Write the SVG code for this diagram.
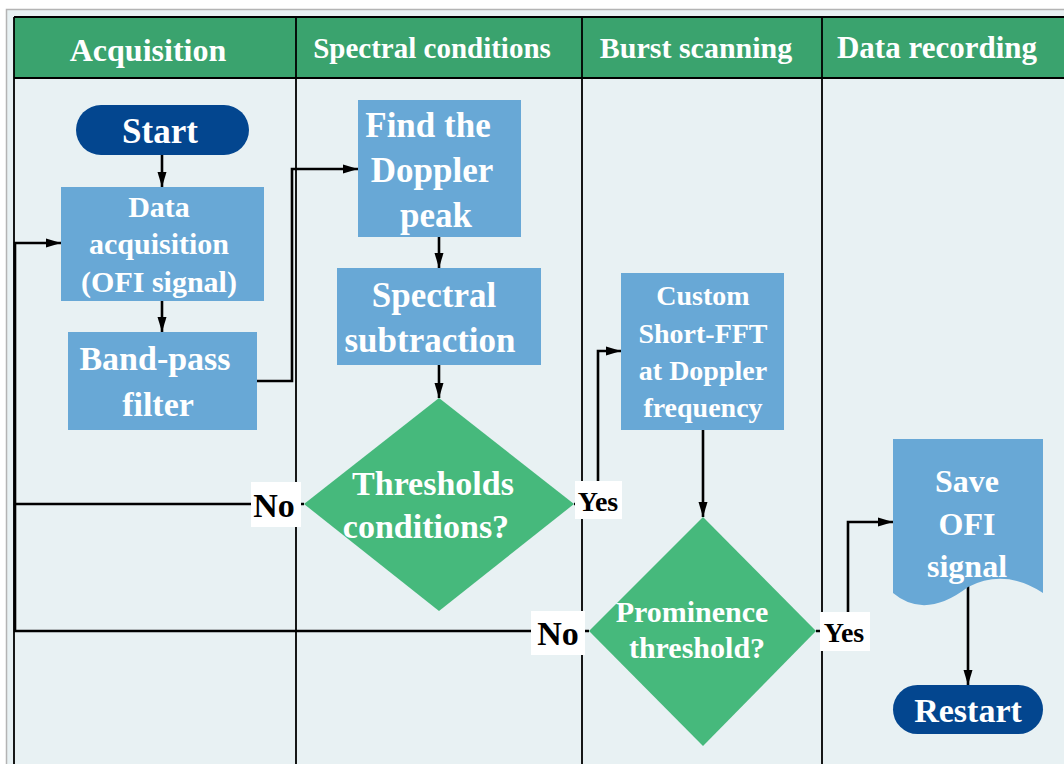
<svg xmlns="http://www.w3.org/2000/svg" width="1064" height="764" viewBox="0 0 1064 764">
<defs>
<marker id="arr" markerUnits="userSpaceOnUse" markerWidth="16" markerHeight="10" refX="15" refY="5" orient="auto">
<path d="M0,0.5 L15,5 L0,9.5 z" fill="#000"/>
</marker>
<style>
text{font-family:"Liberation Serif","Times New Roman",serif;font-weight:bold;text-anchor:middle}
.hd{fill:#fff}
.w{fill:#fff}
.b{fill:#000}
.box{fill:#68a8d6}
.dia{fill:#46b97c}
.term{fill:#03468f}
.lbl{fill:#fff}
.grid{stroke:#000;stroke-width:1.8;fill:none}
.con{stroke:#000;stroke-width:2.6;fill:none}
</style>
</defs>
<rect x="0" y="0" width="1064" height="764" fill="#fff"/>
<rect x="6.5" y="9.5" width="1062" height="760" fill="#e8f1f3" stroke="#b4b4b4" stroke-width="1.5"/>
<g id="lanes">
<rect x="14" y="17" width="1055" height="61" fill="#3aa36e"/>
<path class="grid" d="M14,17 H1064 M14,78 H1064 M14,17 V764 M296,17 V764 M582,17 V764 M822,17 V764"/>
<text class="hd" x="148" y="61" font-size="32">Acquisition</text>
<text class="hd" x="432" y="58" font-size="29">Spectral conditions</text>
<text class="hd" x="696" y="58" font-size="30">Burst scanning</text>
<text class="hd" x="937" y="58" font-size="31">Data recording</text>
</g>
<g id="connectors">
<path class="con" d="M162,155 V187" marker-end="url(#arr)"/>
<path class="con" d="M162,301 V332" marker-end="url(#arr)"/>
<path class="con" d="M257,381 H292 V169 H358" marker-end="url(#arr)"/>
<path class="con" d="M439,237 V268" marker-end="url(#arr)"/>
<path class="con" d="M439,365 V398" marker-end="url(#arr)"/>
<path class="con" d="M304,504 H15 V243 H61" marker-end="url(#arr)"/>
<path class="con" d="M589,631 H15 V504"/>
<path class="con" d="M574,504 H598 V351 H621" marker-end="url(#arr)"/>
<path class="con" d="M703,430 V517" marker-end="url(#arr)"/>
<path class="con" d="M816,631 H848 V522 H893" marker-end="url(#arr)"/>
<path class="con" d="M968,586 V685" marker-end="url(#arr)"/>
<g id="label-no1"><rect class="lbl" x="251" y="482" width="50" height="45"/><text class="b" x="274" y="517" font-size="34">No</text></g>
<g id="label-yes1"><rect class="lbl" x="575" y="481" width="47" height="38"/><text class="b" x="598" y="511" font-size="28">Yes</text></g>
<g id="label-no2"><rect class="lbl" x="531" y="611" width="54" height="44"/><text class="b" x="558" y="645" font-size="34">No</text></g>
<g id="label-yes2"><rect class="lbl" x="820" y="612" width="50" height="39"/><text class="b" x="844" y="642" font-size="28">Yes</text></g>
</g>
<g id="start">
<rect class="term" x="76" y="105" width="173" height="50" rx="25"/>
<text class="w" x="160" y="143" font-size="35">Start</text>
</g>
<g id="data-acquisition">
<rect class="box" x="61" y="187" width="203" height="114"/>
<text class="w" x="159" y="217" font-size="30">Data</text>
<text class="w" x="159" y="254" font-size="30">acquisition</text>
<text class="w" x="159" y="292" font-size="30">(OFI signal)</text>
</g>
<g id="band-pass">
<rect class="box" x="68" y="332" width="189" height="98"/>
<text class="w" x="155" y="370" font-size="34">Band-pass</text>
<text class="w" x="158" y="416" font-size="34">filter</text>
</g>
<g id="find-doppler">
<rect class="box" x="358" y="100" width="163" height="137"/>
<text class="w" x="428" y="137" font-size="35">Find the</text>
<text class="w" x="432" y="182" font-size="35">Doppler</text>
<text class="w" x="436" y="227" font-size="35">peak</text>
</g>
<g id="spectral-subtraction">
<rect class="box" x="337" y="268" width="204" height="97"/>
<text class="w" x="434" y="307" font-size="35">Spectral</text>
<text class="w" x="430" y="352" font-size="35">subtraction</text>
</g>
<g id="thresholds">
<polygon class="dia" points="439,398 574,504 439,611 304,504"/>
<text class="w" x="433" y="495" font-size="34">Thresholds</text>
<text class="w" x="426" y="538" font-size="34">conditions?</text>
</g>
<g id="custom-fft">
<rect class="box" x="621" y="273" width="163" height="157"/>
<text class="w" x="703" y="305" font-size="28">Custom</text>
<text class="w" x="703" y="343" font-size="28">Short-FFT</text>
<text class="w" x="703" y="380" font-size="28">at Doppler</text>
<text class="w" x="703" y="417" font-size="28">frequency</text>
</g>
<g id="prominence">
<polygon class="dia" points="703,517 816,631 703,746 589,631"/>
<text class="w" x="692" y="622" font-size="30">Prominence</text>
<text class="w" x="697" y="658" font-size="30">threshold?</text>
</g>
<g id="save">
<path class="box" d="M893,439 H1043 V593 Q1005,568 968,587 Q925,620 893,593 Z"/>
<text class="w" x="967" y="492" font-size="32">Save</text>
<text class="w" x="967" y="535" font-size="32">OFI</text>
<text class="w" x="967" y="577" font-size="32">signal</text>
</g>
<g id="restart">
<rect class="term" x="893" y="685" width="150" height="49" rx="24.5"/>
<text class="w" x="968" y="722" font-size="34">Restart</text>
</g>
</svg>
